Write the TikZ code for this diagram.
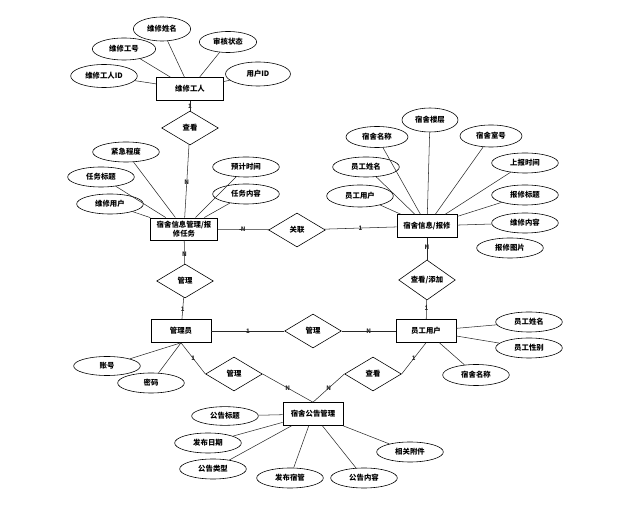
\documentclass[tikz,border=0pt]{standalone}
\usepackage{fontspec}
\usepackage{tikz}
\usetikzlibrary{shapes.geometric}
\newfontfamily\cjk{Noto Sans CJK SC}
\definecolor{cLine}{RGB}{40,40,40}

\begin{document}
\begin{tikzpicture}[x=0.03cm,y=-0.03cm,
  every node/.style={font=\cjk\bfseries\fontsize{6.3}{7.5}\selectfont},
  ent/.style={draw=black,line width=0.8pt,rectangle,inner sep=1pt,minimum width=1.8cm,minimum height=0.68cm,align=center},
  att/.style={draw=black,line width=0.5pt,ellipse,inner sep=0pt,minimum width=2cm,minimum height=0.6cm},
  rel/.style={draw=black,line width=0.5pt,diamond,inner sep=0pt,minimum width=1.7cm,minimum height=1.02cm},
  con/.style={cLine,line width=0.45pt},
  lab/.style={font=\cjk\bfseries\fontsize{5.2}{6}\selectfont,inner sep=0pt}]
\useasboundingbox (0,0) rectangle (630,513);
% entities
\node[ent,minimum width=2.0cm] (wx) at (190,89) {维修工人};
\node[ent,minimum width=2.0cm,text width=1.9cm,minimum height=0.66cm] (task) at (184,229) {宿舍信息管理/报\\修任务};
\node[ent] (rep) at (427,226) {宿舍信息/报修};
\node[ent] (adm) at (181,331) {管理员};
\node[ent] (emp) at (426,331) {员工用户};
\node[ent] (ann) at (313,414) {宿舍公告管理};
% relations
\node[rel] (ck1) at (190,128) {查看};
\node[rel] (glk) at (297,230) {关联};
\node[rel] (gl1) at (185,281) {管理};
\node[rel] (ckt) at (427,280) {查看/添加};
\node[rel] (gl2) at (313,331) {管理};
\node[rel] (gl3) at (234,374) {管理};
\node[rel] (ck2) at (373,374) {查看};
% attributes of 维修工人
\node[att,minimum width=1.72cm,minimum height=0.72cm] (w1) at (162,29) {维修姓名};
\node[att,minimum width=1.9cm,minimum height=0.66cm] (w2) at (124,49) {维修工号};
\node[att,minimum width=1.72cm,minimum height=0.63cm] (w3) at (228,42) {审核状态};
\node[att,minimum height=0.69cm] (w4) at (104,76) {维修工人ID};
\node[att,minimum width=1.95cm,minimum height=0.72cm] (w5) at (258,74) {用户ID};
% attributes of 报修任务
\node[att] (t1) at (126,152) {紧急程度};
\node[att] (t2) at (101,177) {任务标题};
\node[att] (t3) at (110,204) {维修用户};
\node[att] (t4) at (246,167) {预计时间};
\node[att] (t5) at (246,194) {任务内容};
% attributes of 宿舍信息/报修
\node[att,minimum width=1.68cm,minimum height=0.72cm] (r1) at (430,120) {宿舍楼层};
\node[att,minimum width=1.86cm,minimum height=0.63cm] (r2) at (377,137) {宿舍名称};
\node[att,minimum width=1.86cm,minimum height=0.66cm] (r3) at (491,136) {宿舍室号};
\node[att] (r4) at (366,167) {员工姓名};
\node[att] (r5) at (525,163) {上报时间};
\node[att,minimum height=0.66cm] (r6) at (360,196) {员工用户};
\node[att] (r7) at (525,195) {报修标题};
\node[att] (r8) at (525,223) {维修内容};
\node[att] (r9) at (510,248) {报修图片};
% attributes of 员工用户
\node[att] (e1) at (529,322) {员工姓名};
\node[att] (e2) at (529,348) {员工性别};
\node[att,minimum height=0.63cm] (e3) at (476,375) {宿舍名称};
% attributes of 管理员
\node[att,minimum height=0.57cm] (a1) at (107,366) {账号};
\node[att] (a2) at (151,383) {密码};
% attributes of 宿舍公告管理
\node[att,minimum height=0.56cm] (n1) at (225,416) {公告标题};
\node[att] (n2) at (208,443) {发布日期};
\node[att] (n3) at (213,469) {公告类型};
\node[att] (n4) at (290,478) {发布宿管};
\node[att] (n5) at (364,478) {公告内容};
\node[att] (n6) at (410,452) {相关附件};
% attribute lines
\foreach \a in {w1,w2,w3,w4,w5} \draw[con] (wx) -- (\a);
\foreach \a in {t1,t2,t3,t4,t5} \draw[con] (task) -- (\a);
\foreach \a in {r1,r2,r3,r4,r5,r6,r7,r8} \draw[con] (rep) -- (\a);
\foreach \a in {e1,e2,e3} \draw[con] (emp) -- (\a);
\foreach \a in {a1,a2} \draw[con] (adm.south) -- (\a);
\foreach \a in {n1,n2,n3,n4,n5,n6} \draw[con] (ann) -- (\a);
% relation lines
\draw[con] (wx) -- node[lab,pos=0.6] {1} (ck1);
\draw[con] (ck1) -- node[lab,pos=0.52] {N} (task);
\draw[con] (task) -- node[lab] {N} (glk);
\draw[con] (glk) -- node[lab] {1} (rep);
\draw[con] (rep) -- node[lab,pos=0.45] {N} (ckt);
\draw[con] (ckt) -- node[lab,pos=0.45] {1} (emp);
\draw[con] (task) -- node[lab,pos=0.58] {N} (gl1);
\draw[con] (gl1) -- node[lab,pos=0.55] {1} (adm);
\draw[con] (adm) -- node[lab] {1} (gl2);
\draw[con] (gl2) -- node[lab] {N} (emp);
\draw[con] (adm.south) -- node[lab] {1} (gl3.west);
\draw[con] (gl3.east) -- node[lab] {N} (ann.north);
\draw[con] (emp.south) -- node[lab] {1} (ck2.east);
\draw[con] (ck2.west) -- node[lab] {N} (ann.north);
\end{tikzpicture}
\end{document}
